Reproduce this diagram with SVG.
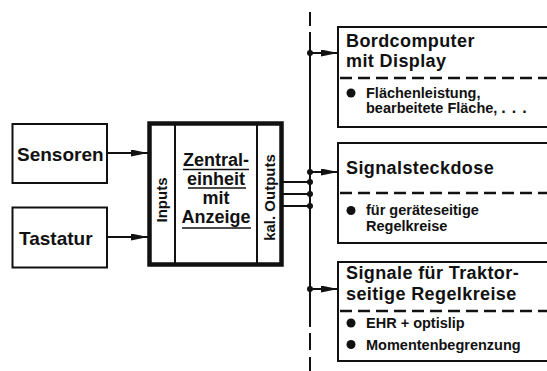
<svg xmlns="http://www.w3.org/2000/svg" width="547" height="371" viewBox="0 0 547 371">
  <style>
    .box { fill: #fff; stroke: #111; stroke-width: 2; }
    .thick { fill: #fff; stroke: #111; stroke-width: 4.5; }
    .ln { stroke: #111; stroke-width: 2; fill: none; }
    .ul { stroke: #111; stroke-width: 1.6; }
    .sep { stroke: #111; stroke-width: 2.5; stroke-dasharray: 12 6; }
    .t { font-family: "Liberation Sans", Arial, sans-serif; font-weight: bold; fill: #111; }
    .big { font-size: 19px; }
    .head { font-size: 18px; letter-spacing: 0.4px; }
    .mid { font-size: 18px; }
    .small { font-size: 14.5px; }
    .side { font-size: 15px; }
    .dot { fill: #111; }
  </style>
  <defs>
    <marker id="arrow" markerUnits="userSpaceOnUse" markerWidth="18" markerHeight="8" refX="17" refY="3.5" orient="auto">
      <path d="M0,0 L17,3.5 L0,7 z" fill="#111"/>
    </marker>
  </defs>

  <rect width="547" height="371" fill="#fff"/>

  <!-- connectors -->
  <g id="connectors">
    <!-- vertical bus -->
    <line class="ln" x1="310" y1="12" x2="310" y2="26"/>
    <line class="ln" x1="310" y1="32" x2="310" y2="327"/>
    <line class="ln" x1="310" y1="333" x2="310" y2="350"/>
    <line class="ln" x1="310" y1="357" x2="310" y2="371"/>
    <!-- inputs -->
    <line class="ln" x1="107" y1="153" x2="148" y2="153" marker-end="url(#arrow)"/>
    <line class="ln" x1="107" y1="237" x2="148" y2="237" marker-end="url(#arrow)"/>
    <!-- outputs to bus -->
    <line class="ln" x1="283" y1="182" x2="310" y2="182"/>
    <line class="ln" x1="283" y1="194" x2="310" y2="194"/>
    <line class="ln" x1="283" y1="206" x2="310" y2="206"/>
    <circle class="dot" cx="310" cy="172" r="3"/>
    <circle class="dot" cx="310" cy="182" r="3"/>
    <circle class="dot" cx="310" cy="194" r="3"/>
    <circle class="dot" cx="310" cy="206" r="3"/>
    <!-- bus to consumers -->
    <circle class="dot" cx="310" cy="53" r="3"/>
    <line class="ln" x1="310" y1="53" x2="338" y2="53" marker-end="url(#arrow)"/>
    <line class="ln" x1="310" y1="172" x2="338" y2="172" marker-end="url(#arrow)"/>
    <circle class="dot" cx="310" cy="289" r="3"/>
    <line class="ln" x1="310" y1="289" x2="338" y2="289" marker-end="url(#arrow)"/>
  </g>

  <g id="sensoren">
    <rect class="box" x="12.5" y="124" width="94.5" height="59"/>
    <text class="t big" x="17" y="161">Sensoren</text>
  </g>

  <g id="tastatur">
    <rect class="box" x="12.5" y="207.5" width="94.5" height="60"/>
    <text class="t big" x="19" y="245">Tastatur</text>
  </g>

  <g id="zentraleinheit">
    <rect class="thick" x="149.5" y="123.5" width="132" height="141"/>
    <line class="ln" x1="175" y1="125" x2="175" y2="263"/>
    <line class="ln" x1="257" y1="125" x2="257" y2="263"/>
    <text class="t side" transform="translate(167,200) rotate(-90)" text-anchor="middle">Inputs</text>
    <text class="t side" transform="translate(275,197.5) rotate(-90)" text-anchor="middle">kal. Outputs</text>
    <text class="t mid" x="216" y="166" text-anchor="middle">Zentral-</text>
    <text class="t mid" x="216" y="185" text-anchor="middle">einheit</text>
    <text class="t mid" x="216" y="204" text-anchor="middle">mit</text>
    <text class="t mid" x="216" y="223" text-anchor="middle">Anzeige</text>
    <line class="ul" x1="183" y1="169.5" x2="249" y2="169.5"/>
    <line class="ul" x1="188" y1="188" x2="246" y2="188"/>
    <line class="ul" x1="182" y1="228" x2="251" y2="228"/>
  </g>

  <g id="bordcomputer">
    <rect class="box" x="338" y="27" width="230" height="100"/>
    <line class="sep" x1="340" y1="78" x2="560" y2="78"/>
    <text class="t head" x="346" y="47">Bordcomputer</text>
    <text class="t head" x="346" y="67">mit Display</text>
    <circle class="dot" cx="351" cy="93" r="4.5"/>
    <text class="t small" x="366" y="98">Flächenleistung,</text>
    <text class="t small" x="366" y="113">bearbeitete Fläche,<tspan dx="4" letter-spacing="6" font-size="16">...</tspan></text>
  </g>

  <g id="signalsteckdose">
    <rect class="box" x="338" y="143" width="230" height="100"/>
    <line class="sep" x1="340" y1="193" x2="560" y2="193"/>
    <text class="t head" x="346" y="174">Signalsteckdose</text>
    <circle class="dot" cx="351" cy="210.5" r="4.5"/>
    <text class="t small" x="366" y="215">für geräteseitige</text>
    <text class="t small" x="366" y="231">Regelkreise</text>
  </g>

  <g id="traktorsignale">
    <rect class="box" x="338" y="262" width="230" height="99"/>
    <line class="sep" x1="340" y1="311" x2="560" y2="311"/>
    <text class="t head" x="346" y="279">Signale für Traktor-</text>
    <text class="t head" x="346" y="300">seitige Regelkreise</text>
    <circle class="dot" cx="351" cy="323" r="4.5"/>
    <text class="t small" x="366" y="328">EHR + optislip</text>
    <circle class="dot" cx="351" cy="344.5" r="4.5"/>
    <text class="t small" x="366" y="349.5">Momentenbegrenzung</text>
  </g>
</svg>
